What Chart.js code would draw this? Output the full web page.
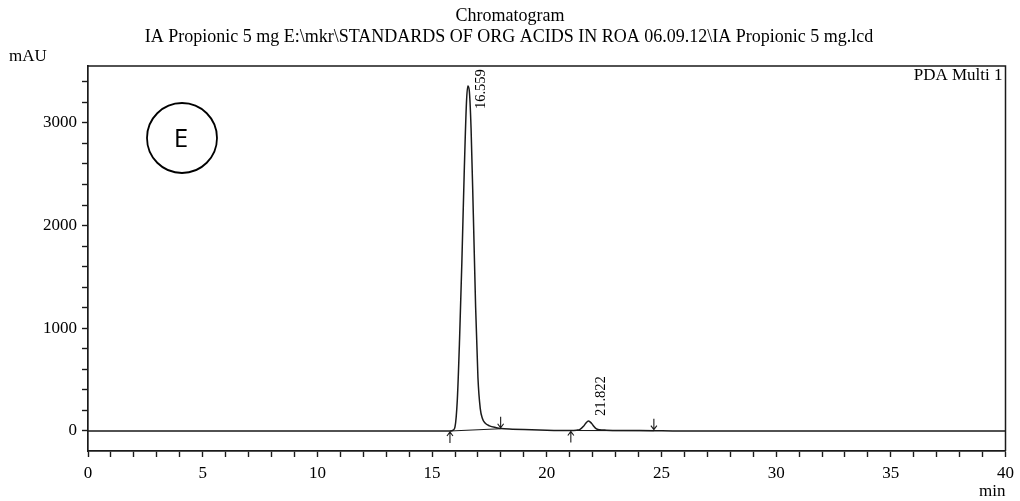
<!DOCTYPE html>
<html>
<head>
<meta charset="utf-8">
<script src="https://cdn.jsdelivr.net/npm/chart.js@4"></script>
<style>
  html, body { margin: 0; padding: 0; background: #fff; }
  canvas { display: block; }
</style>
</head>
<body>
<canvas id="chrom" width="1020" height="501"></canvas>
<script>
// retention time (min) and detector signal (mAU)
let times  = [0, 5, 10, 14, 15.5, 15.8, 15.92, 16.0, 16.1, 16.2, 16.3, 16.4, 16.5, 16.56, 16.62, 16.7, 16.8, 16.9, 17.0, 17.1, 17.2, 17.3, 17.5, 17.8, 18.0, 18.5, 19, 20, 21, 21.3, 21.45, 21.6, 21.7, 21.82, 21.95, 22.05, 22.15, 22.3, 22.6, 23.5, 24.7, 25.5, 30, 35, 40]
let signal = [0, 0, 0, 0, 0, 0, 8, 40, 300, 900, 1650, 2500, 3200, 3360, 3320, 2950, 2100, 1200, 520, 220, 120, 80, 50, 32, 24, 18, 14, 8, 5, 8, 16, 45, 75, 97, 75, 45, 22, 12, 8, 5, 3, 0, 0, 0, 0]

// integration baselines
let base1Times = [15.78, 17.99]
let base1Vals  = [0, 22]
let base2Times = [21.05, 24.67]
let base2Vals  = [5, 3]

// peak start (up arrow) / peak end (down arrow) marks
let upArrowTimes   = [15.78, 21.05]
let upArrowVals    = [0, 5]
let downArrowTimes = [17.99, 24.67]
let downArrowVals  = [22, 3]

// retention time labels
let peakTimes   = [16.559, 21.822]
let peakHeights = [3360, 97]
let peakLabels  = ["16.559", "21.822"]

let xTicks = []
for (let i = 0; i <= 40; i++) xTicks.push(i)
let yTicks = []
for (let v = 0; v <= 3400; v += 200) yTicks.push(v)

let serif = "'Liberation Serif', 'Times New Roman', serif"
let ink = "#1a1a1a"

let toPoints = (xs, ys) => xs.map((x, i) => ({ x: x, y: ys[i] }))

let decorations = {
    id: "decorations",
    afterDraw(chart) {
        let ctx = chart.ctx
        let area = chart.chartArea
        let xs = chart.scales.x
        let ys = chart.scales.y
        ctx.save()

        // frame
        ctx.strokeStyle = ink
        ctx.lineWidth = 1.5
        ctx.beginPath()
        ctx.moveTo(area.left, area.top)
        ctx.lineTo(area.right, area.top)
        ctx.lineTo(area.right, area.bottom)
        ctx.stroke()

        // titles
        ctx.fillStyle = "#000"
        ctx.font = "18px " + serif
        ctx.textAlign = "center"
        ctx.textBaseline = "middle"
        ctx.fillText("Chromatogram", 510, 16)
        ctx.fillText("IA Propionic 5 mg E:\\mkr\\STANDARDS OF ORG ACIDS IN ROA 06.09.12\\IA Propionic 5 mg.lcd", 509, 37)
        ctx.font = "17px " + serif
        ctx.textAlign = "left"
        ctx.fillText("mAU", 9, 57)
        ctx.textAlign = "right"
        ctx.fillText("min", area.right, 492)
        ctx.fillText("PDA Multi 1", area.right - 3, 76)

        // arrows
        ctx.strokeStyle = ink
        ctx.lineWidth = 1.1
        let arrow = (px, tipY, tailY) => {
            let dir = tailY > tipY ? 1 : -1
            ctx.beginPath()
            ctx.moveTo(px, tailY)
            ctx.lineTo(px, tipY)
            ctx.moveTo(px - 3, tipY + 4 * dir)
            ctx.lineTo(px, tipY)
            ctx.lineTo(px + 3, tipY + 4 * dir)
            ctx.stroke()
        }
        upArrowTimes.forEach((t, i) => {
            let px = xs.getPixelForValue(t)
            let py = ys.getPixelForValue(upArrowVals[i])
            arrow(px, py + 1, py + 12)
        })
        downArrowTimes.forEach((t, i) => {
            let px = xs.getPixelForValue(t)
            let py = ys.getPixelForValue(downArrowVals[i])
            arrow(px, py - 1, py - 12)
        })

        // peak labels, rotated
        ctx.font = "14.5px " + serif
        ctx.fillStyle = "#000"
        peakTimes.forEach((t, i) => {
            let px = xs.getPixelForValue(t) + 13
            let py = Math.max(ys.getPixelForValue(peakHeights[i]) - 5, area.top + 43)
            ctx.save()
            ctx.translate(px, py)
            ctx.rotate(-Math.PI / 2)
            ctx.textAlign = "left"
            ctx.textBaseline = "middle"
            ctx.fillText(peakLabels[i], 0, 0)
            ctx.restore()
        })

        // sample marker "E"
        ctx.beginPath()
        ctx.lineWidth = 1.8
        ctx.strokeStyle = "#000"
        ctx.arc(182, 138, 35, 0, Math.PI * 2)
        ctx.stroke()
        ctx.fillStyle = "#000"
        ctx.font = "26px 'Open Sans', 'Noto Sans', sans-serif"
        ctx.textAlign = "center"
        ctx.textBaseline = "middle"
        ctx.fillText("E", 181, 140)

        ctx.restore()
    }
}

let ctxChrom = document.querySelector("#chrom").getContext("2d")

let chrom = new Chart(ctxChrom, {
    type: "line",
    data: {
        datasets: [
            {
                label: "PDA Multi 1",
                data: toPoints(times, signal),
                borderColor: ink,
                borderWidth: 1.5,
                pointRadius: 0,
                cubicInterpolationMode: "monotone",
                fill: false
            },
            {
                label: "baseline 1",
                data: toPoints(base1Times, base1Vals),
                borderColor: ink,
                borderWidth: 1.1,
                pointRadius: 0,
                fill: false
            },
            {
                label: "baseline 2",
                data: toPoints(base2Times, base2Vals),
                borderColor: ink,
                borderWidth: 1.1,
                pointRadius: 0,
                fill: false
            }
        ]
    },
    options: {
        responsive: false,
        animation: false,
        devicePixelRatio: 1,
        layout: { padding: { top: 66, right: 10, left: 0, bottom: 0 } },
        scales: {
            x: {
                type: "linear",
                min: 0,
                max: 40,
                afterBuildTicks: (scale) => { scale.ticks = xTicks.map(v => ({ value: v })) },
                afterFit: (scale) => { scale.height = 50 },
                grid: { drawOnChartArea: false, tickLength: 6, tickColor: ink, tickWidth: 1.4 },
                border: { color: ink, width: 1.7 },
                ticks: {
                    autoSkip: false,
                    maxRotation: 0,
                    padding: 6,
                    color: "#000",
                    font: { family: serif, size: 17 },
                    callback: (v) => (v % 5 === 0 ? String(v) : "")
                }
            },
            y: {
                min: -195,
                max: 3554,
                afterBuildTicks: (scale) => { scale.ticks = yTicks.map(v => ({ value: v })) },
                afterFit: (scale) => { scale.width = 88 },
                grid: { drawOnChartArea: false, tickLength: 6, tickColor: ink, tickWidth: 1.4 },
                border: { color: ink, width: 1.7 },
                ticks: {
                    autoSkip: false,
                    padding: 5,
                    color: "#000",
                    font: { family: serif, size: 17 },
                    callback: (v) => (v % 1000 === 0 ? String(v) : "")
                }
            }
        },
        plugins: {
            legend: { display: false },
            tooltip: { enabled: false }
        }
    },
    plugins: [decorations]
})
</script>
</body>
</html>
